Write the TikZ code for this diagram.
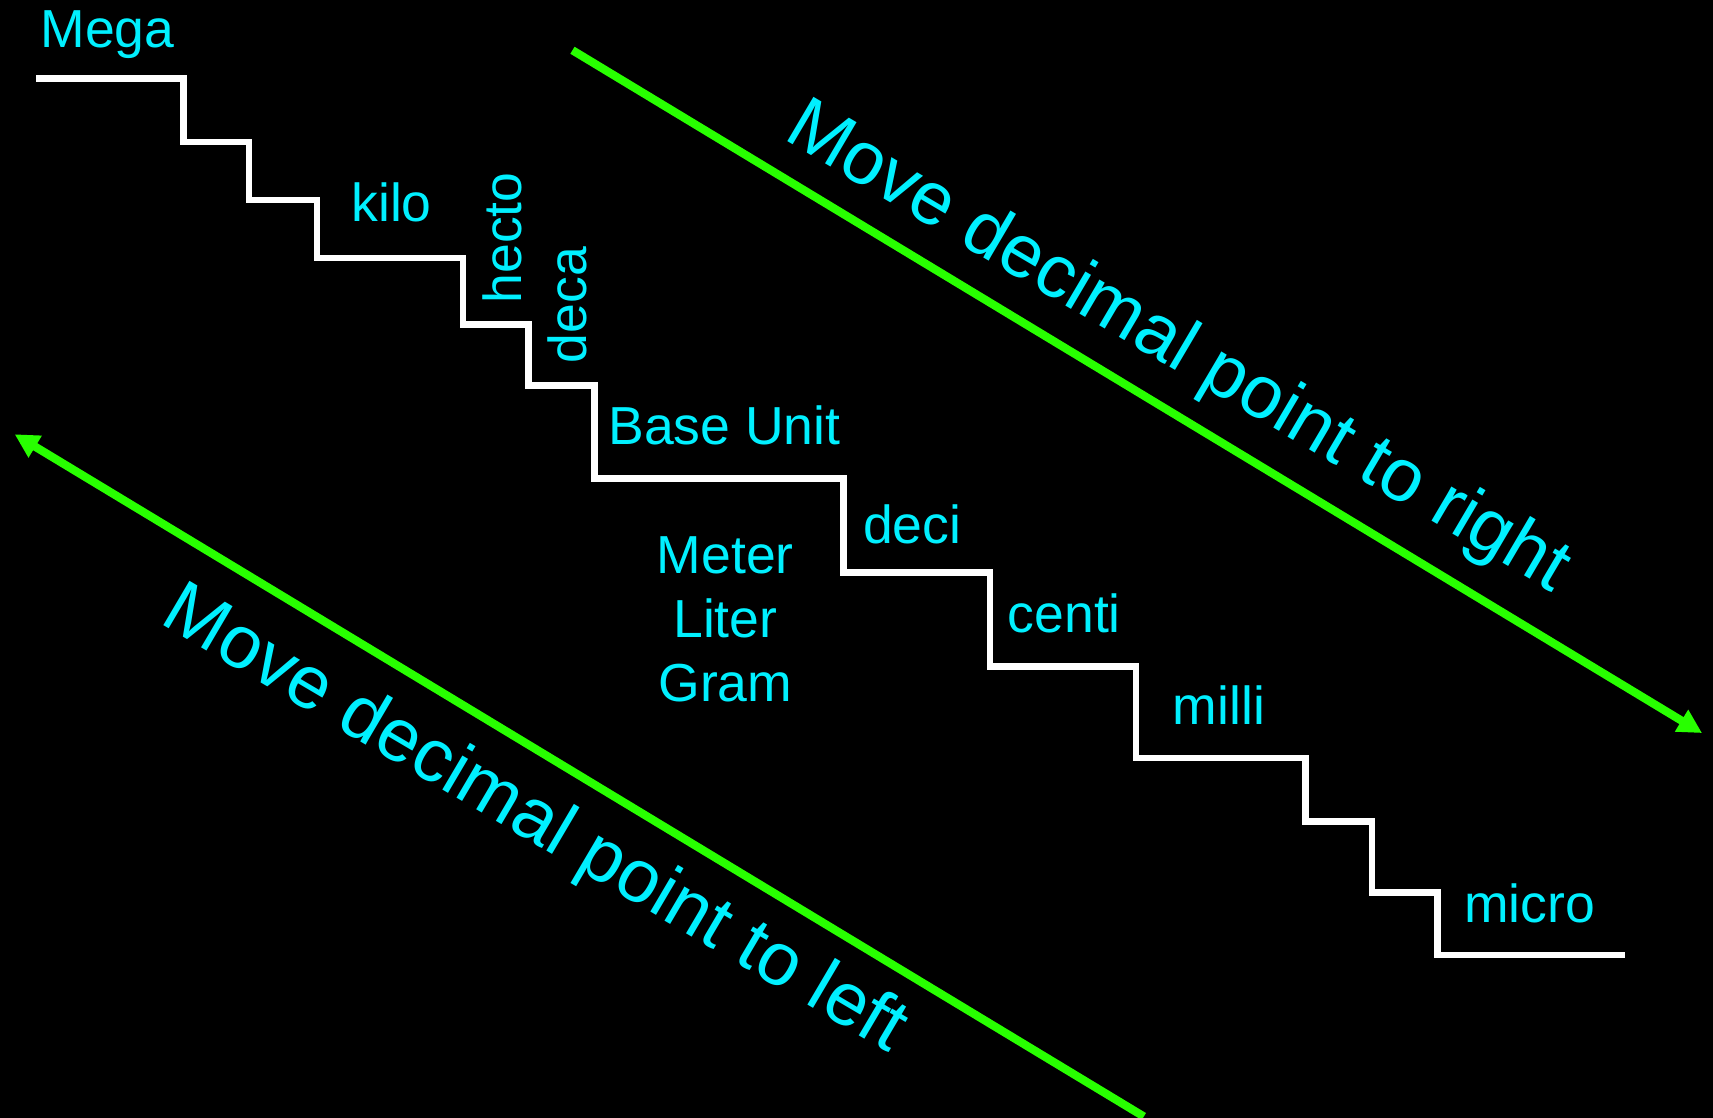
\documentclass[tikz,border=0pt]{standalone}
\usepackage{fontspec}
\setmainfont{Liberation Sans}
\usetikzlibrary{arrows.meta}
\definecolor{lbl}{RGB}{0,240,255}
\definecolor{arr}{RGB}{40,255,0}
\begin{document}
\begin{tikzpicture}[x=1pt,y=-1pt,
  lab/.style={text=lbl, inner sep=0pt, anchor=base west, font=\fontsize{49}{58.8}\selectfont},
  labc/.style={lab, anchor=base},
  big/.style={text=lbl, inner sep=0pt, anchor=base west, font=\fontsize{68.5}{80}\selectfont, rotate=-30.5},
  stair/.style={draw=white, line width=6pt, line join=miter, line cap=butt},
  move/.style={draw=arr, line width=7.5pt, -{Triangle[length=22pt,width=22pt]}}]
\fill[black] (0,0) rectangle (1568,1023);
\useasboundingbox (0,0) rectangle (1568,1023);

% staircase
\coordinate (s0) at (33,72);
\coordinate (s1) at (1487,874);
\draw[stair] (s0) -- (168,72) -- (168,130) -- (228,130) -- (228,183) -- (290,183)
  -- (290,236) -- (424,236) -- (424,297) -- (484,297) -- (484,353) -- (544,353)
  -- (544,438) -- (772,438) -- (772,524) -- (906,524) -- (906,610) -- (1040,610)
  -- (1040,694) -- (1195,694) -- (1195,752) -- (1256,752) -- (1256,817) -- (1316,817)
  -- (1316,874) -- (s1);

% labels
\node[lab] (mega) at (37,43.6) {Mega};
\node[lab] (kilo) at (321.5,202.9) {kilo};
\node[lab, rotate=90] (hecto) at (477,278) {hecto};
\node[lab, rotate=90] (deca) at (536.5,332.5) {deca};
\node[lab] (base) at (556.8,407.3) {Base Unit};
\node[lab] (deci) at (789.8,497.3) {deci};
\node[labc] (meter) at (664,524.8) {Meter};
\node[labc] (liter) at (664,583.7) {Liter};
\node[labc] (gram) at (664,642.3) {Gram};
\node[lab] (centi) at (922.3,578.8) {centi};
\node[lab] (milli) at (1073.4,663.6) {milli};
\node[lab] (micro) at (1340,844) {micro};

% arrows
\coordinate (rt) at (524,46);
\coordinate (rh) at (1558,671);
\draw[move] (rt) -- (rh);
\coordinate (lt) at (1047,1022);
\coordinate (lh) at (13.4,397.5);
\draw[move] (lt) -- (lh);

\node[big] (right) at (715.7,127) {Move decimal point to right};
\node[big] (left) at (145.2,570.1) {Move decimal point to left};
\end{tikzpicture}
\end{document}
